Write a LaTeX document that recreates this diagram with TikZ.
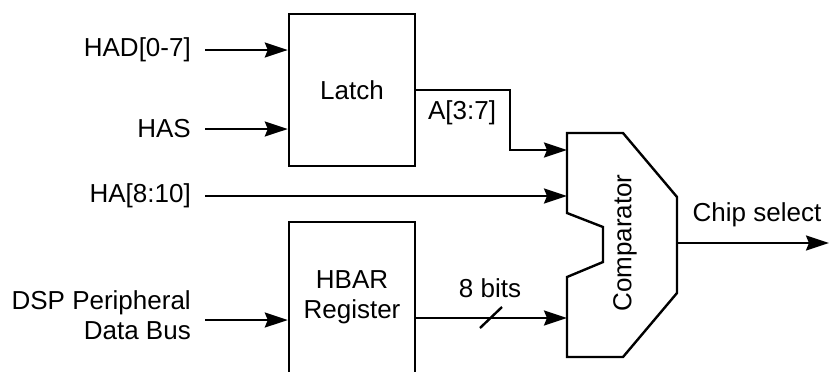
\documentclass[tikz,border=0pt]{standalone}
\usepackage{fontspec}
\setmainfont{Liberation Sans}
\usetikzlibrary{arrows.meta}
\begin{document}
\begin{tikzpicture}[x=0.5pt,y=-0.5pt, line width=1.2pt,
  font=\fontsize{13}{15}\selectfont,
  arr/.style={-{Stealth[length=11.5pt,width=7.5pt,inset=1.5pt]}},
  box/.style={draw, line width=1.2pt, inner sep=0pt, minimum width=63pt},
  lbl/.style={anchor=east, inner xsep=6.5pt, inner ysep=0pt, align=right},
  txt/.style={inner sep=0pt, align=center}]
\useasboundingbox (0,0) rectangle (829,371);
\clip (0,0) rectangle (829,371);
% blocks
\node[box, minimum height=76pt] (latch) at (352,90) {Latch};
\node[box, minimum height=89pt] (hbar) at (352,311) {};
\node[txt] (hbartxt) at (352,297) {HBAR\\Register};
% comparator
\draw (567,133) -- (623,133) -- (677,197) -- (677,293) -- (623,357) -- (567,357)
  -- (567,277) -- (603,262) -- (603,227) -- (567,213) -- cycle;
\node[txt, rotate=90] (comp) at (625,243) {Comparator};
\coordinate (cA) at (567,150);
\coordinate (cB) at (567,196);
\coordinate (cC) at (567,318);
\coordinate (cOut) at (677,243);
\coordinate (chipend) at (829,243);
\coordinate (lo) at (415,90);
% input labels
\node[lbl] (had) at (205,50) {HAD[0-7]};
\node[lbl] (has) at (205,129) {HAS};
\node[lbl] (ha) at (205,196) {HA[8:10]};
\node[lbl] (dsp) at (205,315) {DSP Peripheral\\Data Bus};
% input arrows
\draw[arr] (had.east) -- (had.east -| latch.west);
\draw[arr] (has.east) -- (has.east -| latch.west);
\draw[arr] (ha.east) -- (cB);
\draw[arr] (205,320) -- (hbar.west |- 0,320);
% latch output
\draw[arr] (lo) -- (510,90) -- (510,150) -- (cA);
\node[txt] (alabel) at (462,113) {A[3:7]};
% hbar output
\draw[arr] (hbar.east |- cC) -- (cC);
\draw (480,328) -- (502,307);
\node[txt] (bits) at (490,288) {8 bits};
% output
\draw[arr] (cOut) -- (chipend);
\node[txt] (chip) at (757,215) {Chip select};
\end{tikzpicture}
\end{document}
